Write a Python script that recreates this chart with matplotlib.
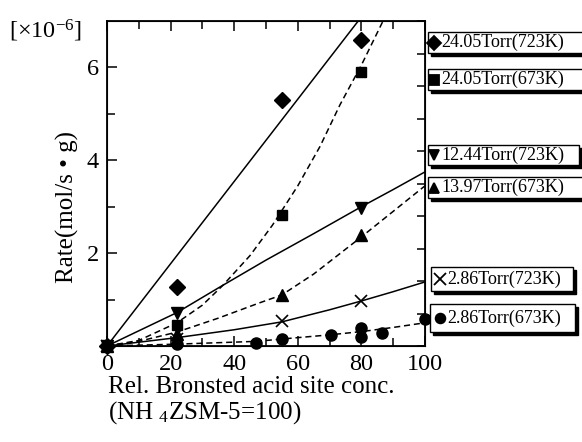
import matplotlib
matplotlib.use("Agg")
import matplotlib.pyplot as plt
from matplotlib.lines import Line2D
from matplotlib.patches import Rectangle

plt.rcParams["font.family"] = ["Liberation Serif", "DejaVu Serif"]
plt.rcParams["mathtext.fontset"] = "custom"
plt.rcParams["mathtext.rm"] = "Liberation Serif"
plt.rcParams["mathtext.it"] = "Liberation Serif:italic"

# measured points (x = rel. Bronsted acid site conc., y = rate x1e-6)
dia_x = [0, 22, 55, 80]
dia_y = [0, 1.27, 5.3, 6.6]
sq_x = [0, 22, 55, 80]
sq_y = [0, 0.45, 2.82, 5.9]
dtri_x = [0, 22, 80]
dtri_y = [0, 0.71, 2.97]
utri_x = [0, 22, 55, 80]
utri_y = [0, 0.26, 1.1, 2.39]
cross_x = [0, 22, 55, 80]
cross_y = [0, 0.16, 0.54, 0.97]
circ_x = [0, 22, 47, 55, 70.5, 80, 80, 86.5, 100]
circ_y = [0, 0.04, 0.06, 0.15, 0.24, 0.39, 0.2, 0.28, 0.58]

# fitted curves
dia_fit_x = [0, 79]
dia_fit_y = [0, 7.0]
sq_fit_x = [0, 10, 22, 30, 36.5, 45, 52, 60, 67, 73.3, 80, 86.8]
sq_fit_y = [0, 0.12, 0.5, 0.88, 1.31, 1.95, 2.6, 3.45, 4.3, 5.2, 6.05, 7.0]
dtri_fit_x = [0, 22, 35, 50, 65, 80, 90, 100]
dtri_fit_y = [0, 0.72, 1.25, 1.85, 2.42, 3.0, 3.37, 3.75]
utri_fit_x = [0, 10, 22, 35, 48, 55, 65, 80, 90, 100]
utri_fit_y = [0, 0.1, 0.3, 0.6, 0.93, 1.1, 1.55, 2.35, 2.9, 3.45]
cross_fit_x = [0, 22, 40, 55, 70, 80, 90, 100]
cross_fit_y = [0, 0.18, 0.35, 0.52, 0.78, 0.97, 1.17, 1.38]
circ_fit_x = [0, 22, 47, 55, 70, 80, 90, 100]
circ_fit_y = [0, 0.04, 0.1, 0.15, 0.24, 0.31, 0.4, 0.5]

labels = ["24.05Torr(723K)", "24.05Torr(673K)", "12.44Torr(723K)",
          "13.97Torr(673K)", "2.86Torr(723K)", "2.86Torr(673K)"]
markers = ["D", "s", "v", "^", "x", "o"]

W, H = 582, 442
fig = plt.figure(figsize=(W / 100, H / 100), dpi=100)
ax = fig.add_axes([107 / W, 1 - 346 / H, (425 - 107) / W, (346 - 21) / H])

dash = (0, (4, 2.5))
ax.plot(dia_fit_x, dia_fit_y, color="black", lw=1.1)
ax.plot(sq_fit_x, sq_fit_y, color="black", lw=1.1, ls=dash)
ax.plot(dtri_fit_x, dtri_fit_y, color="black", lw=1.1)
ax.plot(utri_fit_x, utri_fit_y, color="black", lw=1.1, ls=dash)
ax.plot(cross_fit_x, cross_fit_y, color="black", lw=1.1)
ax.plot(circ_fit_x, circ_fit_y, color="black", lw=1.1, ls=dash)

ax.plot(dia_x, dia_y, "D", color="black", ms=8.5, ls="none", clip_on=False)
ax.plot(sq_x, sq_y, "s", color="black", ms=7.5, ls="none", clip_on=False)
ax.plot(dtri_x, dtri_y, "v", color="black", ms=8.5, ls="none", clip_on=False)
ax.plot(utri_x, utri_y, "^", color="black", ms=8.5, ls="none", clip_on=False)
ax.plot(cross_x, cross_y, "x", color="black", ms=9, mew=1.2, ls="none", clip_on=False)
ax.plot(circ_x, circ_y, "o", color="black", ms=8, ls="none", clip_on=False)

ax.set_xlim(0, 100)
ax.set_ylim(0, 7)
ax.set_xticks(range(0, 101, 20))
ax.set_xticks(range(0, 101, 10), minor=True)
ax.set_yticks([2, 4, 6])
ax.set_yticks([1, 3, 5], minor=True)
ax.tick_params(which="both", direction="in", top=True, right=False,
               width=1.1, labelsize=17.5, pad=6)
ax.tick_params(which="major", length=7)
ax.tick_params(which="minor", length=6)
for s in ax.spines.values():
    s.set_linewidth(1.3)

ax2 = ax.twinx()
ax2.set_ylim(0, 10)
ax2.set_yticks(range(0, 11))
ax2.tick_params(direction="in", length=6, width=1.1, labelright=False)

fig.text(67 / W, 1 - 207 / H, "Rate(mol/s \u2022 g)", rotation=90,
         ha="center", va="center", fontsize=18)
fig.text(46 / W, 1 - 31 / H, r"[$\times$10$^{\mathrm{-6}}$]",
         ha="center", va="center", fontsize=17.5)
fig.text(108 / W, 1 - 387 / H, "Rel. Bronsted acid site conc.",
         ha="left", va="center", fontsize=18)
fig.text(108 / W, 1 - 413 / H, r"(NH $_{\mathrm{4}}$ZSM-5=100)",
         ha="left", va="center", fontsize=18)

# legend boxes: (left, top, right, bottom) in pixels
boxes = [(428, 32, 590, 53), (428, 69, 590, 90), (428, 145, 579, 165),
         (428, 177, 590, 198), (431, 267, 573, 291), (430, 304, 575, 332)]
for (l, t, r, b), lab, m in zip(boxes, labels, markers):
    fig.patches.append(Rectangle(((l + 3) / W, 1 - (b + 3) / H), (r - l) / W,
                                 (b - t) / H, transform=fig.transFigure,
                                 facecolor="black", edgecolor="black"))
    fig.patches.append(Rectangle((l / W, 1 - b / H), (r - l) / W, (b - t) / H,
                                 transform=fig.transFigure, facecolor="white",
                                 edgecolor="black", lw=1.0))
    cy = 1 - (t + b) / 2 / H
    mx = 434 if l < 430 else 440
    fig.lines.append(Line2D([mx / W], [cy], marker=m, color="black",
                            ms=7 if m != "x" else 8.5, mew=1.3,
                            transform=fig.transFigure))
    fig.text((mx + 7) / W, cy, lab, ha="left", va="center", fontsize=13)

fig.savefig("out.png", dpi=100)
